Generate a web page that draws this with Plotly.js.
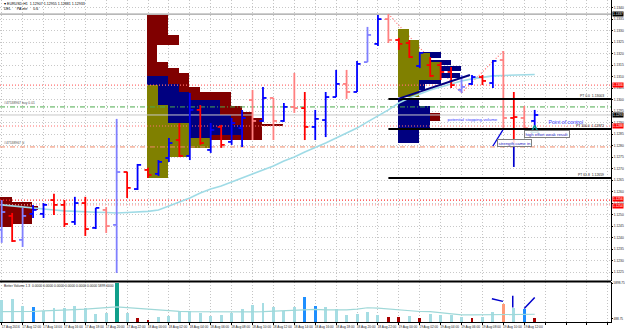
<!DOCTYPE html>
<html><head><meta charset="utf-8">
<script src="https://cdn.plot.ly/plotly-3.0.1.min.js"></script>
<style>html,body{margin:0;padding:0;background:#fff;}#chart{width:625px;height:332px;}</style>
</head><body><div id="chart"></div>
<script>
// ---------- DATA ----------
const timeLabels = ["17 Aug 2016","17 Aug 12:00","17 Aug 14:00","17 Aug 16:00","17 Aug 18:00","17 Aug 20:00","17 Aug 22:00",
  "18 Aug 00:00","18 Aug 02:00","18 Aug 04:00","18 Aug 06:00","18 Aug 08:00","18 Aug 10:00","18 Aug 12:00","18 Aug 14:00",
  "18 Aug 16:00","18 Aug 18:00","18 Aug 20:00","18 Aug 22:00","19 Aug 00:00","19 Aug 02:00","19 Aug 04:00","19 Aug 06:00",
  "19 Aug 08:00","19 Aug 10:00","19 Aug 12:00"];

const openP  = [1.12433,1.12494,1.12390,1.12503,1.12503,1.12563,1.12542,1.12468,1.12550,1.12442,1.12520,1.12455,1.12685,1.12611,1.12694,1.12677,1.12746,1.12824,1.12755,1.12955,1.12781,1.12881,1.12816,1.12876,1.12998,1.12907,1.13007,1.12907,1.12968,1.12963,1.12881,1.12911,1.13011,1.13068,1.13033,1.13163,1.13242,1.13350,1.13259,1.13246,1.13146,1.13150,1.13150,1.13120,1.13042,1.13068,1.13098,1.13072,1.13172,1.12920,1.12920,1.12907];
const highP  = [1.12563,1.12507,1.12529,1.12542,1.12550,1.12590,1.12563,1.12577,1.12577,1.12529,1.12533,1.12916,1.12685,1.12720,1.12703,1.12737,1.12833,1.12898,1.13029,1.12976,1.12898,1.12890,1.12920,1.12955,1.13042,1.13055,1.13007,1.12985,1.13116,1.13033,1.12955,1.13033,1.13129,1.13129,1.13168,1.13316,1.13368,1.13372,1.13268,1.13259,1.13207,1.13185,1.13163,1.13142,1.13107,1.13107,1.13107,1.13172,1.13211,1.13033,1.12972,1.12955];
const lowP   = [1.12377,1.12381,1.12359,1.12485,1.12485,1.12498,1.12446,1.12455,1.12407,1.12437,1.12420,1.12246,1.12572,1.12607,1.12659,1.12668,1.12729,1.12750,1.12737,1.12803,1.12768,1.12790,1.12803,1.12794,1.12824,1.12903,1.12824,1.12903,1.12942,1.12824,1.12824,1.12837,1.13011,1.13003,1.13033,1.13163,1.13233,1.13246,1.13216,1.13181,1.13137,1.13098,1.13085,1.13050,1.13029,1.13063,1.13063,1.13050,1.12876,1.12811,1.12876,1.12881];
const closeP = [1.12511,1.12385,1.12494,1.12520,1.12542,1.12542,1.12459,1.12550,1.12437,1.12529,1.12450,1.12685,1.12616,1.12716,1.12672,1.12729,1.12811,1.12755,1.12955,1.12811,1.12868,1.12803,1.12898,1.12920,1.12907,1.13007,1.12907,1.12968,1.12963,1.12881,1.12916,1.13011,1.13068,1.13033,1.13155,1.13281,1.13350,1.13259,1.13242,1.13185,1.13203,1.13103,1.13120,1.13063,1.13055,1.13098,1.13081,1.13168,1.12920,1.12924,1.12876,1.12933];
const barKind = ['upWeak','down','upWeak','up','up','down','down','up','down','up','downWeak','upWeak','down','up','down','up','up','down','up','down','up','down','up','up','downWeak','up','downWeak','up','downWeak','down','up','up','up','downWeak','up','upWeak','up','downWeak','down','down','up','down','down','down','upWeak','up','down','up','downWeak','down','downWeak','up'];

const priceMA = [1.12542,1.12537,1.12533,1.12529,1.12524,1.12520,1.12516,1.12513,1.12511,1.12510,1.12509,1.12507,1.12509,1.12511,1.12514,1.12520,1.12537,1.12552,1.12572,1.12594,1.12611,1.12624,1.12642,1.12659,1.12677,1.12694,1.12711,1.12733,1.12750,1.12772,1.12790,1.12811,1.12833,1.12855,1.12876,1.12903,1.12929,1.12955,1.12985,1.13007,1.13024,1.13042,1.13055,1.13068,1.13081,1.13090,1.13098,1.13103,1.13105,1.13107,1.13109,1.13109];

const volume = [3290,3540,2465,2215,1725,2170,2065,2405,2065,1180,1330,5899,1430,590,340,740,840,1725,1725,1330,930,1080,1430,1920,2655,2950,2315,1725,2215,3735,2510,2260,1965,1080,1180,1580,1035,740,740,885,635,1180,1035,990,740,590,740,1520,2805,2065,1920,590];
const volumeKind = ['n','n','n','hi','n','n','n','n','n','n','n','climax','n','lo','lo','n','n','n','n','n','n','n','n','n','n','n','n','n','n','hi','hi','n','n','n','n','n','n','lo','lo','n','lo','n','n','n','n','lo','n','n','churn','n','hi','lo'];
const volumeMA = [1580,1580,1580,1600,1700,1800,1850,1900,1950,2050,2200,2300,2200,2080,1950,1800,1700,1620,1580,1560,1540,1520,1520,1530,1550,1580,1650,1720,1800,1870,1920,1860,1820,1850,1950,2170,2100,1980,1815,1700,1600,1580,1400,1250,1100,1080,1080,1150,1180,1180,1180,1180];
const volumeTicks = [488.75, 5898.75];

// volume profiles: start bar, row top/bottom prices, end bar
const profA = {start:-0.16, red:{top:[1.12577,1.12555,1.12537,1.12520,1.12477,1.12459], bot:[1.12555,1.12537,1.12520,1.12477,1.12459,1.12446], end:[0.99,2.90,3.47,2.90,2.90,0.99]}};
const profB = {start:13.9,
  red:{top:[1.13368,1.13281,1.13237,1.13163,1.13137,1.13116,1.13055,1.13033,1.12972,1.12946,1.12920,1.12894,1.12885],
       bot:[1.13281,1.13237,1.13163,1.13137,1.13116,1.13055,1.13033,1.12972,1.12946,1.12920,1.12894,1.12885,1.12824],
       end:[15.91,16.97,14.86,15.91,16.97,17.92,18.98,21.94,22.99,23.95,24.91,26.92,24.91]},
  navy:{top:[1.13103,1.13068,1.13033,1.12998,1.12933,1.12890,1.12846],
        bot:[1.13068,1.13033,1.12998,1.12933,1.12890,1.12846,1.12824],
        end:[15.91,16.97,17.92,20.89,21.94,22.90,19.93]},
  olive:{top:[1.13063,1.12976,1.12898,1.12833,1.12790,1.12750],
         bot:[1.12976,1.12898,1.12833,1.12790,1.12750,1.12659],
         end:[14.96,15.91,17.92,19.93,17.92,15.91]}};
const profC = {start:37.92,
  red:{top:[1.12942], bot:[1.12907], end:[41.94]},
  navy:{top:[1.13207,1.13172,1.13146,1.13116,1.13090,1.13068,1.13003,1.12972,1.12876],
        bot:[1.13181,1.13150,1.13124,1.13094,1.13068,1.13042,1.12972,1.12876,1.12811],
        end:[42.04,42.99,43.95,43.86,42.04,40.51,39.93,40.99,39.93]},
  olive:{top:[1.13307,1.13259,1.13203,1.13163,1.13085],
         bot:[1.13259,1.13203,1.13163,1.13085,1.13011],
         end:[38.98,39.93,40.99,41.94,39.93]}};

// horizontal levels
const levelPrice = [1.13372,1.13063,1.12968,1.12933,1.12885,1.12794,1.12563,1.12542];
const levelName  = ['hiLine','alert1','order','bid','alert2','stop','alert3','alert4'];
const ptPrice = [1.13003,1.12872,1.12659];
const ptLabel = ['PT 0.0  1.13003','PT 100.0  1.12872','PT 61.8  1.12659'];
const ptStartBar = 37;
const trendX = [37.92,44.8], trendY = [1.13003,1.13107];
const zigzagX = [37,44,48], zigzagY = [1.13372,1.13029,1.13211];
const noteLineX = [47.96,47.0], noteLineY = [1.12868,1.12798];
const noteVertX = [49,49], noteVertY = [1.12811,1.12707];
const volNoteSegs = [[[46.9,47.96],[3542,3144]],[[48.9,48.9],[3985,2214]],[[50.0,51.0],[2066,3734]]];
const pocArrow = {x:51.0, y:1.12888};
const notes = [
  {text:'potential stopping volume', x:42.6, y:1.12916, box:false},
  {text:'Point of control', x:52.3, y:1.12903, box:false},
  {text:'high effort weak result', x:50.0, y:1.12850, box:true},
  {text:'strength came in', x:47.4, y:1.12811, box:true}];

// ---------- BUILD ----------
const XR = [-0.163, 58.3];
const kindColor = {up:'#0000ff', upWeak:'#8080ff', down:'#ff0000', downWeak:'#ff8080'};
const TW = 0.34;
const traces = [];

function profTrace(start, g, color){
  return {type:'bar', orientation:'h', xaxis:'x', yaxis:'y',
    base:g.top.map(()=>start), x:g.end.map(e=>e-start),
    y:g.top.map((t,k)=>(t+g.bot[k])/2), width:g.top.map((t,k)=>t-g.bot[k]),
    marker:{color:color, line:{width:0}}, hoverinfo:'skip'};
}
traces.push(profTrace(profA.start, profA.red, '#800000'));
[profB, profC].forEach(p=>{
  traces.push(profTrace(p.start, p.red, '#800000'));
  traces.push(profTrace(p.start, p.navy, '#000080'));
  traces.push(profTrace(p.start, p.olive, '#808000'));
});

// volume bars
const vCol = {n:'#a6dde3', hi:'#1e8fff', climax:'#0f9f8a', lo:'#a80000', churn:'#ff9a78'};
traces.push({type:'bar', xaxis:'x', yaxis:'y2', x:volume.map((v,i)=>i), y:volume,
  width:volume.map((v,i)=>volumeKind[i]==='climax'?0.38:0.28),
  marker:{color:volumeKind.map(k=>vCol[k]), line:{width:0}}, hoverinfo:'skip'});
traces.push({type:'scatter', mode:'lines', xaxis:'x', yaxis:'y2', x:volumeMA.map((v,i)=>i), y:volumeMA,
  line:{color:'#9fd8d8', width:1.2}, hoverinfo:'skip'});
volNoteSegs.forEach(s=>traces.push({type:'scatter', mode:'lines', xaxis:'x', yaxis:'y2', x:s[0], y:s[1],
  line:{color:'#0000cc', width:1.5}, hoverinfo:'skip'}));

// level lines
const levelStyle = {
  hiLine:{color:'#a0a0a0', dash:'solid', width:1.2},
  alert1:{color:'#ff7070', dash:'1px,2px', width:1.2},
  order:{color:'#4caa4c', dash:'5px,2px,1px,2px', width:1},
  bid:{color:'#c8c8c8', dash:'solid', width:1},
  alert2:{color:'#ff7070', dash:'1px,2px', width:1.2},
  stop:{color:'#f08a6a', dash:'5px,2px,1px,2px', width:1},
  alert3:{color:'#ff3030', dash:'1px,2px', width:1.2},
  alert4:{color:'#ffa0a0', dash:'1px,2px', width:1.2}};
levelPrice.forEach((p,k)=>traces.push({type:'scatter', mode:'lines', xaxis:'x', yaxis:'y',
  x:XR, y:[p,p], line:levelStyle[levelName[k]], hoverinfo:'skip'}));

// price MA
traces.push({type:'scatter', mode:'lines', xaxis:'x', yaxis:'y', x:priceMA.map((v,i)=>i), y:priceMA,
  line:{color:'#9fdbe6', width:1.6}, hoverinfo:'skip'});

// OHLC bars
Object.keys(kindColor).forEach(kind=>{
  const xs=[], ys=[];
  for (let i=0;i<openP.length;i++){
    if (barKind[i]!==kind) continue;
    xs.push(i,i,null, i-TW,i,null, i,i+TW,null);
    ys.push(lowP[i],highP[i],null, openP[i],openP[i],null, closeP[i],closeP[i],null);
  }
  traces.push({type:'scatter', mode:'lines', xaxis:'x', yaxis:'y', x:xs, y:ys,
    line:{color:kindColor[kind], width:1.8}, hoverinfo:'skip'});
});

// PT lines and trend
ptPrice.forEach(p=>traces.push({type:'scatter', mode:'lines', xaxis:'x', yaxis:'y',
  x:[ptStartBar, XR[1]], y:[p,p], line:{color:'#000', width:2}, hoverinfo:'skip'}));
traces.push({type:'scatter', mode:'lines', xaxis:'x', yaxis:'y', x:trendX, y:trendY, line:{color:'#000080', width:2}, hoverinfo:'skip'});
traces.push({type:'scatter', mode:'lines', xaxis:'x', yaxis:'y', x:noteLineX, y:noteLineY, line:{color:'#0000dd', width:1.3}, hoverinfo:'skip'});
traces.push({type:'scatter', mode:'lines', xaxis:'x', yaxis:'y', x:noteVertX, y:noteVertY, line:{color:'#0000cc', width:1.7}, hoverinfo:'skip'});
traces.push({type:'scatter', mode:'markers', xaxis:'x', yaxis:'y', x:[pocArrow.x], y:[pocArrow.y],
  marker:{symbol:'arrow-up-open', size:7, color:'#008f8f', line:{color:'#008f8f', width:1.5}}, hoverinfo:'skip'});

// ticks
const xTickVals=[], xTickText=[];
for (let k=0;k<=29;k++){ xTickVals.push(2*k); xTickText.push(timeLabels[k]||''); }

const annotations = [];
annotations.push({xref:'paper', yref:'paper', x:0.003, y:1, xanchor:'left', yanchor:'top', showarrow:false, align:'left',
  text:'\u25BE EURUSD,H1  1.12907 1.12955 1.12881 1.12933<br>DEL      PA mtr      0.6', font:{size:3.6, color:'#000'}});
annotations.push({xref:'paper', yref:'paper', x:0.003, y:0.1242, xanchor:'left', yanchor:'top', showarrow:false,
  text:'Better Volume 1.3  0.0000 0.0000 0.0000 0.0000 0.0000 0.0000 5899.0000', font:{size:3.3, color:'#222'}});
annotations.push({xref:'x', yref:'y', x:0.05, y:levelPrice[2], xanchor:'left', yanchor:'bottom', showarrow:false,
  text:'#47538967 buy 0.01', font:{size:3.4, color:'#555'}});
annotations.push({xref:'x', yref:'y', x:0.05, y:levelPrice[5], xanchor:'left', yanchor:'bottom', showarrow:false,
  text:'#47538967 sl', font:{size:3.4, color:'#555'}});
ptPrice.forEach((p,k)=>annotations.push({xref:'x', yref:'y', x:57.8, y:p, xanchor:'right', yanchor:'bottom', showarrow:false,
  text:ptLabel[k], font:{size:3.4, color:'#222'}, yshift:-1}));
notes.forEach(n=>annotations.push({xref:'x', yref:'y', x:n.x, y:n.y, xanchor:'left', yanchor:'middle', showarrow:false,
  text:n.text, font:{size:n.box?4.3:(n.text.length>20?4.4:5.2), color:n.box?'#2020c0':'#3a3aff'},
  bordercolor:n.box?'#808080':'rgba(0,0,0,0)', borderwidth:n.box?1:0, borderpad:0.5,
  bgcolor:n.box?'rgba(255,255,255,0.85)':'rgba(0,0,0,0)'}));
// axis price labels
const axisLabels = [[levelPrice[0],'#000',0],[levelPrice[1],'#ff0000',0],[levelPrice[3],'#000',0],[levelPrice[4],'#ff0000',0],[levelPrice[6],'#ff0000',1],[levelPrice[7],'#ff0000',-1]];
axisLabels.forEach(a=>annotations.push({xref:'paper', yref:'y', x:1, y:a[0], xanchor:'left', yanchor:'middle', showarrow:false,
  text:a[0].toFixed(4), font:{size:3.2, color:'#fff'}, bgcolor:a[1], borderpad:0, xshift:1, yshift:a[2]}));

const shapes = [
  {type:'line', xref:'paper', yref:'paper', x0:0, x1:1, y0:0.1258, y1:0.1258, line:{color:'#000', width:2}},
  {type:'path', xref:'x', yref:'y', layer:'between',
   path:'M '+zigzagX.map((x,k)=>x+','+zigzagY[k]).join(' L '), line:{color:'#ff7070', width:1.2, dash:'1px,2px'}}
];

const layout = {
  width:625, height:332, margin:{l:0, r:14, t:0, b:10}, paper_bgcolor:'#fff', plot_bgcolor:'#fff',
  showlegend:false, barmode:'overlay', bargap:0,
  font:{family:'Liberation Sans, Arial, sans-serif', size:4, color:'#000'},
  xaxis:{range:XR, anchor:'y2', tickmode:'array', tickvals:xTickVals, ticktext:xTickText, tickfont:{size:3.2, color:'#222'}, tickangle:0,
    ticks:'outside', ticklen:1.5, tickcolor:'#000', showgrid:true, gridcolor:'#c4c4c4', griddash:'1px,2px', gridwidth:1,
    showline:true, linecolor:'#000', linewidth:1, zeroline:false, ticklabelshift:9, ticklabelstandoff:0, fixedrange:true},
  yaxis:{domain:[0.1273,1], range:[1.12211,1.13433], side:'right', dtick:0.0005, tick0:1.1220, tickformat:'.4f',
    tickfont:{size:3.3, color:'#222'}, ticks:'outside', ticklen:1, tickcolor:'#000', showgrid:true, gridcolor:'#c8c8c8', griddash:'1px,2px',
    showline:true, linecolor:'#000', zeroline:false, ticklabelstandoff:0, fixedrange:true},
  yaxis2:{domain:[0,0.1242], range:[0,6090], side:'right', tickmode:'array', tickvals:volumeTicks, ticktext:volumeTicks.map(v=>v.toFixed(2)),
    tickfont:{size:3.1, color:'#222'}, ticks:'outside', ticklen:1, tickcolor:'#000', showgrid:false,
    showline:true, linecolor:'#000', zeroline:false, ticklabelstandoff:0, fixedrange:true},
  annotations:annotations, shapes:shapes
};
Plotly.newPlot('chart', traces, layout, {staticPlot:true, displayModeBar:false});
</script></body></html>
